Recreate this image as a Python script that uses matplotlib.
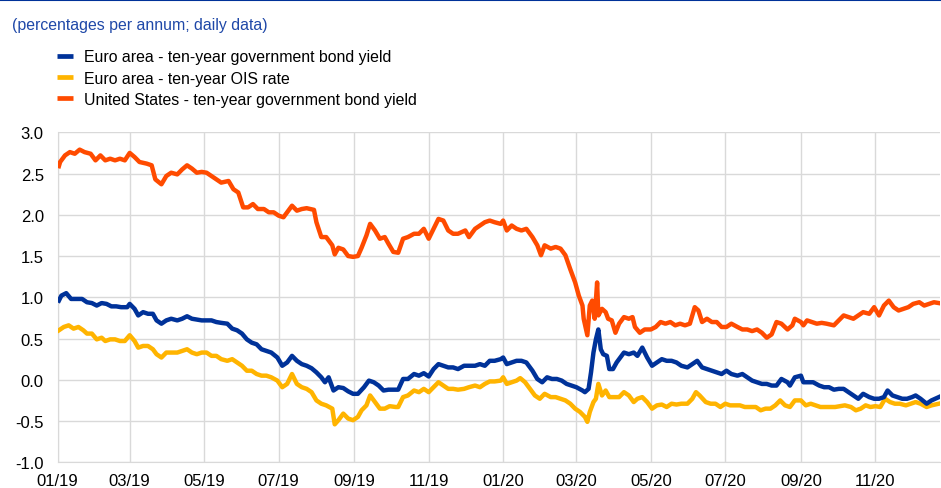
import pandas as pd
import matplotlib
matplotlib.use("Agg")
import matplotlib.pyplot as plt
import matplotlib.dates as mdates
from matplotlib.lines import Line2D

# days since 2019-01-01 and yields (percentages per annum)
us_days = [1, 2, 6, 10, 14, 18, 22, 27, 31, 35, 39, 43, 47, 51, 55, 59, 63, 67, 73, 77,
           80, 85, 89, 93, 98, 102, 106, 110, 114, 118, 122, 128, 134, 140, 144, 148, 152, 156, 160, 164,
           169, 173, 177, 181, 185, 188, 192, 196, 200, 204, 210, 212, 216, 220, 225, 227, 230, 234, 238, 242,
           246, 249, 253, 256, 260, 264, 268, 271, 275, 279, 283, 287, 292, 296, 300, 304, 308, 312, 316, 320,
           324, 328, 334, 337, 342, 346, 350, 354, 358, 363, 365, 368, 372, 376, 380, 384, 389, 393, 396, 399,
           404, 408, 412, 416, 420, 424, 427, 430, 431, 434, 436, 438, 440, 442, 443, 446, 449, 451, 454, 457,
           460, 464, 468, 471, 473, 477, 481, 486, 490, 494, 498, 502, 506, 510, 514, 518, 522, 525, 528, 532,
           536, 540, 544, 548, 552, 557, 561, 565, 569, 573, 577, 581, 585, 589, 593, 598, 602, 604, 609, 611,
           614, 618, 622, 626, 630, 636, 640, 644, 648, 652, 656, 660, 665, 669, 673, 677, 681, 685, 689, 693,
           697, 701, 706, 710, 714, 718, 722]
us_yield = [2.59, 2.64, 2.72, 2.76, 2.74, 2.79, 2.76, 2.74, 2.66, 2.72, 2.66, 2.68, 2.66, 2.68, 2.66, 2.75, 2.70, 2.64, 2.62, 2.60,
            2.43, 2.37, 2.47, 2.51, 2.49, 2.55, 2.60, 2.56, 2.51, 2.52, 2.51, 2.45, 2.39, 2.41, 2.31, 2.27, 2.09, 2.09, 2.13, 2.07,
            2.07, 2.03, 2.03, 1.99, 1.97, 2.03, 2.11, 2.05, 2.07, 2.08, 2.06, 1.91, 1.73, 1.73, 1.63, 1.52, 1.60, 1.58, 1.50, 1.49,
            1.50, 1.60, 1.75, 1.89, 1.81, 1.71, 1.73, 1.65, 1.55, 1.54, 1.71, 1.73, 1.77, 1.77, 1.83, 1.71, 1.83, 1.95, 1.93, 1.81,
            1.77, 1.77, 1.81, 1.73, 1.83, 1.87, 1.91, 1.93, 1.91, 1.89, 1.93, 1.81, 1.87, 1.83, 1.81, 1.83, 1.73, 1.63, 1.51, 1.63,
            1.59, 1.61, 1.59, 1.51, 1.34, 1.18, 1.02, 0.90, 0.74, 0.54, 0.90, 0.96, 0.74, 1.18, 0.78, 0.86, 0.82, 0.74, 0.72, 0.57,
            0.68, 0.76, 0.74, 0.76, 0.64, 0.57, 0.61, 0.61, 0.64, 0.70, 0.68, 0.70, 0.66, 0.68, 0.66, 0.68, 0.88, 0.84, 0.70, 0.74,
            0.70, 0.70, 0.64, 0.64, 0.68, 0.64, 0.61, 0.61, 0.59, 0.61, 0.57, 0.51, 0.55, 0.70, 0.68, 0.61, 0.66, 0.74, 0.70, 0.66,
            0.72, 0.70, 0.68, 0.69, 0.68, 0.66, 0.72, 0.78, 0.76, 0.74, 0.78, 0.82, 0.80, 0.88, 0.78, 0.90, 0.96, 0.88, 0.84, 0.86,
            0.88, 0.92, 0.94, 0.90, 0.92, 0.94, 0.93]

ea_days = [1, 3, 7, 11, 16, 20, 24, 28, 32, 36, 40, 44, 48, 52, 57, 59, 63, 66, 70, 74,
           78, 81, 85, 89, 93, 98, 102, 106, 110, 114, 118, 122, 126, 130, 134, 139, 143, 147, 151, 155,
           159, 163, 167, 171, 175, 180, 184, 188, 192, 196, 200, 204, 208, 212, 216, 219, 222, 226, 230, 234,
           238, 242, 246, 251, 255, 259, 263, 267, 271, 275, 279, 283, 287, 292, 296, 300, 304, 308, 312, 316,
           320, 324, 328, 333, 337, 342, 346, 350, 354, 358, 363, 365, 368, 372, 376, 380, 384, 389, 393, 397,
           401, 405, 409, 413, 417, 421, 425, 430, 432, 435, 437, 439, 441, 443, 445, 447, 450, 452, 455, 458,
           461, 464, 468, 472, 475, 479, 483, 487, 491, 495, 499, 503, 507, 511, 516, 520, 524, 528, 532, 536,
           540, 544, 548, 552, 557, 561, 565, 569, 573, 577, 581, 585, 589, 593, 598, 600, 604, 609, 611, 615,
           619, 624, 628, 632, 636, 640, 644, 648, 652, 656, 660, 665, 669, 673, 677, 680, 684, 688, 692, 696,
           700, 703, 707, 712, 716, 722]
ea_yield = [0.96, 1.02, 1.05, 0.98, 0.98, 0.98, 0.94, 0.93, 0.90, 0.93, 0.92, 0.89, 0.89, 0.88, 0.88, 0.92, 0.86, 0.78, 0.82, 0.80,
            0.80, 0.72, 0.68, 0.72, 0.74, 0.72, 0.74, 0.77, 0.74, 0.73, 0.72, 0.72, 0.72, 0.70, 0.69, 0.68, 0.62, 0.60, 0.56, 0.49,
            0.45, 0.43, 0.37, 0.35, 0.33, 0.27, 0.17, 0.21, 0.29, 0.23, 0.19, 0.17, 0.14, 0.09, 0.03, -0.03, 0.03, -0.13, -0.09, -0.10,
            -0.14, -0.17, -0.17, -0.09, -0.01, -0.03, -0.07, -0.13, -0.12, -0.12, -0.12, 0.01, 0.01, 0.07, 0.05, 0.08, 0.04, 0.13, 0.19, 0.17,
            0.15, 0.15, 0.13, 0.17, 0.17, 0.17, 0.19, 0.17, 0.23, 0.23, 0.25, 0.27, 0.19, 0.21, 0.23, 0.23, 0.21, 0.11, 0.01, -0.03,
            0.03, 0.01, 0.01, -0.01, -0.05, -0.07, -0.09, -0.13, -0.15, -0.11, 0.09, 0.33, 0.49, 0.61, 0.37, 0.31, 0.29, 0.13, 0.13, 0.21,
            0.27, 0.33, 0.31, 0.33, 0.29, 0.39, 0.27, 0.17, 0.21, 0.25, 0.23, 0.23, 0.21, 0.17, 0.15, 0.19, 0.23, 0.15, 0.13, 0.11,
            0.09, 0.07, 0.11, 0.07, 0.05, 0.07, 0.03, -0.01, -0.03, -0.05, -0.05, -0.07, -0.07, 0.01, -0.03, -0.07, 0.03, 0.05, -0.03, -0.03,
            -0.03, -0.07, -0.09, -0.09, -0.12, -0.11, -0.11, -0.15, -0.19, -0.23, -0.17, -0.21, -0.23, -0.23, -0.21, -0.13, -0.19, -0.21, -0.23, -0.23,
            -0.21, -0.19, -0.23, -0.29, -0.25, -0.21]

ois_days = [1, 5, 9, 13, 17, 21, 24, 28, 32, 36, 39, 43, 47, 51, 55, 59, 63, 66, 70, 74,
            78, 81, 85, 89, 93, 98, 102, 106, 110, 114, 118, 122, 126, 130, 134, 139, 143, 147, 151, 155,
            159, 163, 167, 171, 175, 180, 184, 188, 192, 196, 200, 204, 208, 212, 216, 220, 225, 227, 230, 234,
            238, 242, 246, 249, 253, 256, 260, 264, 268, 272, 277, 279, 283, 287, 292, 296, 300, 304, 308, 312,
            316, 320, 324, 328, 333, 337, 342, 346, 350, 354, 358, 363, 365, 368, 372, 376, 379, 383, 387, 391,
            395, 399, 404, 408, 412, 416, 420, 424, 428, 432, 434, 436, 439, 441, 443, 446, 449, 452, 455, 460,
            464, 468, 472, 475, 479, 483, 487, 491, 495, 499, 503, 507, 511, 516, 520, 523, 526, 531, 535, 539,
            543, 547, 551, 555, 559, 563, 568, 572, 576, 580, 584, 588, 592, 596, 600, 604, 609, 613, 617, 621,
            625, 629, 633, 637, 641, 645, 650, 654, 658, 662, 666, 670, 674, 678, 682, 686, 690, 695, 699, 703,
            707, 712, 716, 722]
ois_rate = [0.60, 0.64, 0.66, 0.62, 0.64, 0.60, 0.56, 0.56, 0.49, 0.51, 0.47, 0.49, 0.49, 0.47, 0.47, 0.54, 0.47, 0.39, 0.41, 0.41,
            0.37, 0.31, 0.27, 0.33, 0.33, 0.33, 0.35, 0.37, 0.33, 0.31, 0.33, 0.33, 0.29, 0.29, 0.25, 0.23, 0.25, 0.21, 0.17, 0.11,
            0.11, 0.07, 0.05, 0.05, 0.03, -0.01, -0.09, -0.05, 0.07, -0.05, -0.09, -0.11, -0.15, -0.25, -0.29, -0.31, -0.35, -0.54, -0.49, -0.41,
            -0.47, -0.49, -0.45, -0.37, -0.31, -0.19, -0.27, -0.35, -0.35, -0.32, -0.33, -0.33, -0.21, -0.19, -0.13, -0.15, -0.11, -0.15, -0.09, -0.03,
            -0.07, -0.11, -0.11, -0.12, -0.11, -0.09, -0.07, -0.09, -0.05, -0.02, -0.02, -0.01, 0.03, -0.05, -0.03, -0.01, 0.02, -0.03, -0.11, -0.19,
            -0.23, -0.17, -0.21, -0.21, -0.23, -0.25, -0.29, -0.35, -0.39, -0.45, -0.51, -0.39, -0.27, -0.23, -0.05, -0.19, -0.13, -0.21, -0.21, -0.21,
            -0.15, -0.19, -0.27, -0.23, -0.21, -0.27, -0.35, -0.31, -0.30, -0.33, -0.29, -0.30, -0.29, -0.29, -0.23, -0.15, -0.19, -0.27, -0.29, -0.29,
            -0.33, -0.29, -0.31, -0.31, -0.31, -0.33, -0.33, -0.33, -0.37, -0.35, -0.35, -0.31, -0.25, -0.31, -0.33, -0.25, -0.25, -0.31, -0.29, -0.31,
            -0.33, -0.33, -0.33, -0.33, -0.32, -0.31, -0.33, -0.37, -0.35, -0.31, -0.33, -0.32, -0.33, -0.23, -0.27, -0.29, -0.29, -0.31, -0.29, -0.27,
            -0.29, -0.33, -0.31, -0.29]

labels = ["Euro area - ten-year government bond yield",
          "Euro area - ten-year OIS rate",
          "United States - ten-year government bond yield"]
colors = ["#003299", "#ffb400", "#ff4b00"]

start = pd.Timestamp("2019-01-01")


def to_dates(days):
    return start + pd.to_timedelta(days, unit="D")


plt.rcParams["font.family"] = ["Liberation Sans", "DejaVu Sans"]
plt.rcParams["axes.unicode_minus"] = False

fig = plt.figure(figsize=(9.41, 4.89), dpi=100)
ax = fig.add_axes([0.0613, 0.0526, 0.9377, 0.6748])

ax.plot(to_dates(us_days), us_yield, color=colors[2], lw=3.2, zorder=3)
ax.plot(to_dates(ois_days), ois_rate, color=colors[1], lw=3.2, zorder=4)
ax.plot(to_dates(ea_days), ea_yield, color=colors[0], lw=3.2, zorder=5)

ax.set_ylim(-1.0, 3.0)
ax.set_yticks([-1.0, -0.5, 0.0, 0.5, 1.0, 1.5, 2.0, 2.5, 3.0])
ax.yaxis.set_major_formatter(plt.FormatStrFormatter("%.1f"))
ax.set_xlim(start, start + pd.Timedelta(days=723))
ax.xaxis.set_major_locator(mdates.MonthLocator(bymonth=[1, 3, 5, 7, 9, 11]))
ax.xaxis.set_major_formatter(mdates.DateFormatter("%m/%y"))

ax.grid(True, color="#d9d9d9", lw=1)
ax.set_axisbelow(True)
for side in ["top", "right"]:
    ax.spines[side].set_visible(False)
for side in ["left", "bottom"]:
    ax.spines[side].set_color("#d9d9d9")
ax.tick_params(length=0, labelsize=12, colors="#000000")
ax.tick_params(axis="y", pad=10)
ax.tick_params(axis="x", pad=8)

# header
fig.add_artist(Line2D([0, 1], [0.997, 0.997], transform=fig.transFigure, color="#003299", lw=1.5))
fig.text(0.0127, 0.948, "(percentages per annum; daily data)", color="#1f48a8", fontsize=11.4, va="center")

handles = [Line2D([], [], color=c, lw=3.4, solid_capstyle="butt") for c in colors]
fig.legend(handles, labels, loc="upper left", bbox_to_anchor=(0.0609, 0.897),
           bbox_transform=fig.transFigure, frameon=False, fontsize=11.4,
           handlelength=1.0, handletextpad=0.7, labelspacing=0.4,
           borderpad=0, borderaxespad=0)

fig.savefig("out.png", dpi=100)
